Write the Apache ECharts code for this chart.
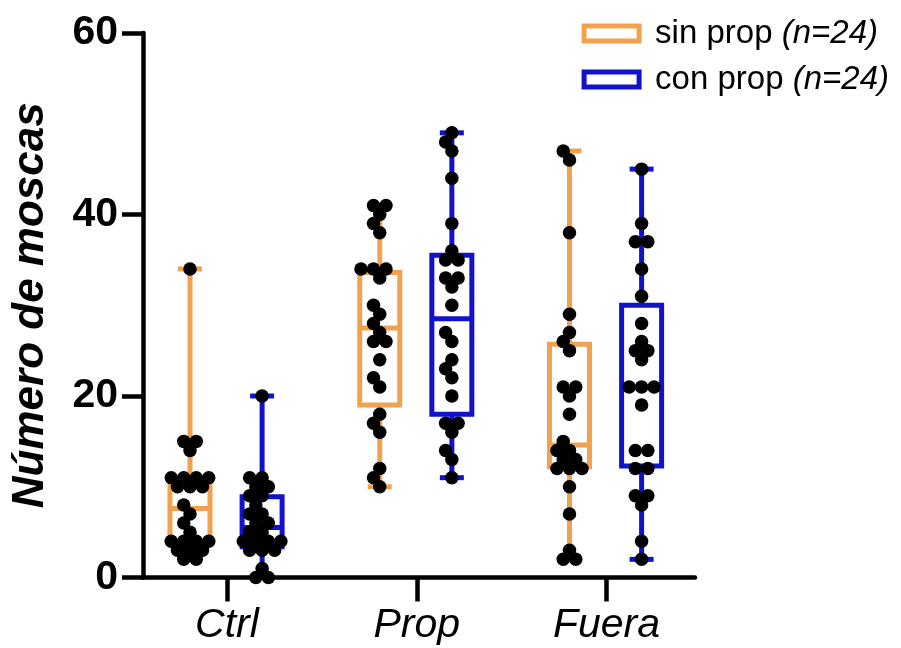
<!DOCTYPE html>
<html>
<head>
<meta charset="utf-8">
<script src="https://cdn.jsdelivr.net/npm/echarts@6/dist/echarts.min.js"></script>
<style>
  html, body { margin: 0; padding: 0; background: #fff; }
  #chart { width: 901px; height: 648px; }
</style>
</head>
<body>
<div id="chart"></div>
<script>
// Groups on the x axis
const CATEGORIES = ['Ctrl', 'Prop', 'Fuera'];

// Individual counts per fly group, "sin prop"
const SIN_CTRL  = [34, 15, 15, 14, 11, 11, 11, 11, 10, 10, 10, 8, 7, 6, 5, 4, 4, 4, 4, 3, 3, 3, 2, 2];
const SIN_PROP  = [41, 41, 40, 39, 38, 34, 34, 34, 33, 30, 29, 28, 27, 26, 26, 24, 22, 21, 18, 17, 16, 12, 11, 10];
const SIN_FUERA = [47, 46, 38, 29, 27, 26, 25, 21, 21, 20, 18, 15, 14, 14, 13, 13, 12, 12, 12, 10, 7, 3, 2, 2];

// Individual counts per fly group, "con prop"
const CON_CTRL  = [20, 11, 11, 10, 10, 9, 9, 8, 7, 7, 6, 6, 5, 5, 4, 4, 4, 4, 3, 3, 3, 1, 0, 0];
const CON_PROP  = [49, 48, 47, 44, 39, 36, 35, 35, 33, 33, 32, 30, 27, 26, 24, 23, 22, 20, 17, 17, 16, 14, 13, 11];
const CON_FUERA = [45, 39, 37, 37, 34, 31, 28, 26, 25, 25, 24, 21, 21, 21, 19, 14, 14, 12, 12, 9, 9, 8, 4, 2];

// Box summaries per group: [min, Q1, median, Q3, max]
const SIN_BOX = [
  [2, 3.8, 7.6, 10.6, 34],
  [10, 19.0, 27.5, 33.6, 41],
  [2, 12.2, 14.6, 25.7, 47]
];
const CON_BOX = [
  [0, 3.4, 5.5, 8.9, 20],
  [11, 18.0, 28.5, 35.5, 49],
  [2, 12.3, 21.0, 30.0, 45]
];

const Y_MIN = 0, Y_MAX = 60, Y_STEP = 20;

// Layout and style
const W = 901, H = 648;
const GRID = { left: 143, right: 206, top: 33, bottom: 70.5, outerBoundsMode: 'none', containLabel: false };
const X_MIN = -0.4427, X_MAX = 2.4664;
const SIDE = [-0.195, 0.185];          // box position within a group
const ORANGE = '#F2A24E';
const BLUE = '#1212CC';
const DOT = 13.5;
const BOX_W = 40, CAP_W = 24, LINE_W = 5;
const FONT = '"Liberation Sans", Arial, Helvetica, sans-serif';

const pxPerY = (H - GRID.top - GRID.bottom) / (Y_MAX - Y_MIN);

// Horizontal spread of dots: equal values form a centred row,
// the whole row slides sideways until it clears the dots already placed.
function swarmOffsets(values) {
  const rows = new Map();
  values.forEach((v, i) => {
    if (!rows.has(v)) rows.set(v, []);
    rows.get(v).push(i);
  });
  const keys = Array.from(rows.keys()).sort((a, b) => a - b);
  const step = 12.5;
  const shifts = [0];
  for (let k = 1; k <= 6; k++) shifts.push(-k * step / 2, k * step / 2);
  const minDist = 10.5;
  const placed = [];
  const out = new Array(values.length).fill(0);
  keys.forEach(v => {
    const idx = rows.get(v);
    const y = v * pxPerY;
    const base = idx.map((_, j) => (j - (idx.length - 1) / 2) * step);
    let chosen = 0;
    for (const s of shifts) {
      const ok = base.every(b => placed.every(p => Math.hypot(p[0] - (b + s), p[1] - y) >= minDist));
      if (ok) { chosen = s; break; }
    }
    idx.forEach((i, j) => {
      out[i] = base[j] + chosen;
      placed.push([out[i], y]);
    });
  });
  return out;
}

function dotData(groups, side) {
  const data = [];
  groups.forEach((vals, g) => {
    const offs = swarmOffsets(vals);
    vals.forEach((v, i) => {
      data.push({ value: [g + side, v], symbolOffset: [offs[i], 0] });
    });
  });
  return data;
}

function boxData(boxes, side) {
  return boxes.map((b, g) => [g + side].concat(b));
}

function boxSeries(name, boxes, side, color) {
  return {
    name: name,
    type: 'custom',
    itemStyle: { color: color },
    clip: false,
    z: 3,
    encode: { x: 0, y: [1, 2, 3, 4, 5] },
    data: boxData(boxes, side),
    renderItem: function (params, api) {
      const x = api.value(0);
      const pMin = api.coord([x, api.value(1)]);
      const pQ1 = api.coord([x, api.value(2)]);
      const pMed = api.coord([x, api.value(3)]);
      const pQ3 = api.coord([x, api.value(4)]);
      const pMax = api.coord([x, api.value(5)]);
      const cx = pMin[0];
      const hw = BOX_W / 2, cw = CAP_W / 2;
      const st = { stroke: color, lineWidth: LINE_W, fill: null };
      return {
        type: 'group',
        children: [
          { type: 'line', shape: { x1: cx, y1: pMax[1], x2: cx, y2: pQ3[1] }, style: st },
          { type: 'line', shape: { x1: cx, y1: pQ1[1], x2: cx, y2: pMin[1] }, style: st },
          { type: 'line', shape: { x1: cx - cw, y1: pMax[1], x2: cx + cw, y2: pMax[1] }, style: st },
          { type: 'line', shape: { x1: cx - cw, y1: pMin[1], x2: cx + cw, y2: pMin[1] }, style: st },
          { type: 'rect', shape: { x: cx - hw, y: pQ3[1], width: 2 * hw, height: pQ1[1] - pQ3[1] },
            style: { stroke: color, lineWidth: LINE_W, fill: '#fff' } },
          { type: 'line', shape: { x1: cx - hw, y1: pMed[1], x2: cx + hw, y2: pMed[1] }, style: st }
        ]
      };
    }
  };
}

function dotSeries(groups, side) {
  return {
    type: 'scatter',
    symbol: 'circle',
    symbolSize: DOT,
    itemStyle: { color: '#000', opacity: 1 },
    clip: false,
    z: 5,
    silent: true,
    data: dotData(groups, side)
  };
}

const chart = echarts.init(document.getElementById('chart'), null, { renderer: 'canvas' });

const option = {
  animation: false,
  backgroundColor: '#fff',
  grid: GRID,
  legend: {
    orient: 'vertical',
    right: 7,
    top: 12,
    itemWidth: 55,
    itemHeight: 15,
    itemGap: 13,
    textStyle: {
      fontFamily: FONT,
      fontSize: 33,
      lineHeight: 33,
      color: '#000',
      padding: [0, 0, 0, 11],
      rich: { n: { fontFamily: FONT, fontSize: 33, fontStyle: 'italic', color: '#000' } }
    },
    formatter: function (name) {
      const n = name === 'sin prop' ? SIN_CTRL.length : CON_CTRL.length;
      return name + ' {n|(n=' + n + ')}';
    },
    data: [
      { name: 'sin prop', icon: 'rect', itemStyle: { color: '#fff', borderColor: ORANGE, borderWidth: 5 } },
      { name: 'con prop', icon: 'rect', itemStyle: { color: '#fff', borderColor: BLUE, borderWidth: 5 } }
    ]
  },
  xAxis: {
    type: 'value',
    min: X_MIN,
    max: X_MAX,
    splitLine: { show: false },
    axisLine: { show: true, onZero: false, lineStyle: { color: '#000', width: 4.5 } },
    axisTick: { show: true, length: 24, lineStyle: { color: '#000', width: 4.5 }, customValues: [0, 1, 2] },
    axisLabel: {
      customValues: [0, 1, 2],
      formatter: v => CATEGORIES[Math.round(v)],
      margin: 28,
      fontFamily: FONT,
      fontSize: 41,
      fontStyle: 'italic',
      color: '#000'
    }
  },
  yAxis: {
    type: 'value',
    min: Y_MIN,
    max: Y_MAX,
    interval: Y_STEP,
    name: 'Número de moscas',
    nameLocation: 'middle',
    nameGap: 90,
    nameTextStyle: { fontFamily: FONT, fontSize: 44, fontWeight: 'bold', fontStyle: 'italic', color: '#000' },
    splitLine: { show: false },
    axisLine: { show: true, onZero: false, lineStyle: { color: '#000', width: 4.5 } },
    axisTick: { show: true, length: 21, lineStyle: { color: '#000', width: 4.5 } },
    axisLabel: { margin: 25, fontFamily: FONT, fontSize: 41, fontWeight: 'bold', color: '#000' }
  },
  series: [
    boxSeries('sin prop', SIN_BOX, SIDE[0], ORANGE),
    boxSeries('con prop', CON_BOX, SIDE[1], BLUE),
    dotSeries([SIN_CTRL, SIN_PROP, SIN_FUERA], SIDE[0]),
    dotSeries([CON_CTRL, CON_PROP, CON_FUERA], SIDE[1])
  ]
};

chart.setOption(option);
</script>
</body>
</html>
